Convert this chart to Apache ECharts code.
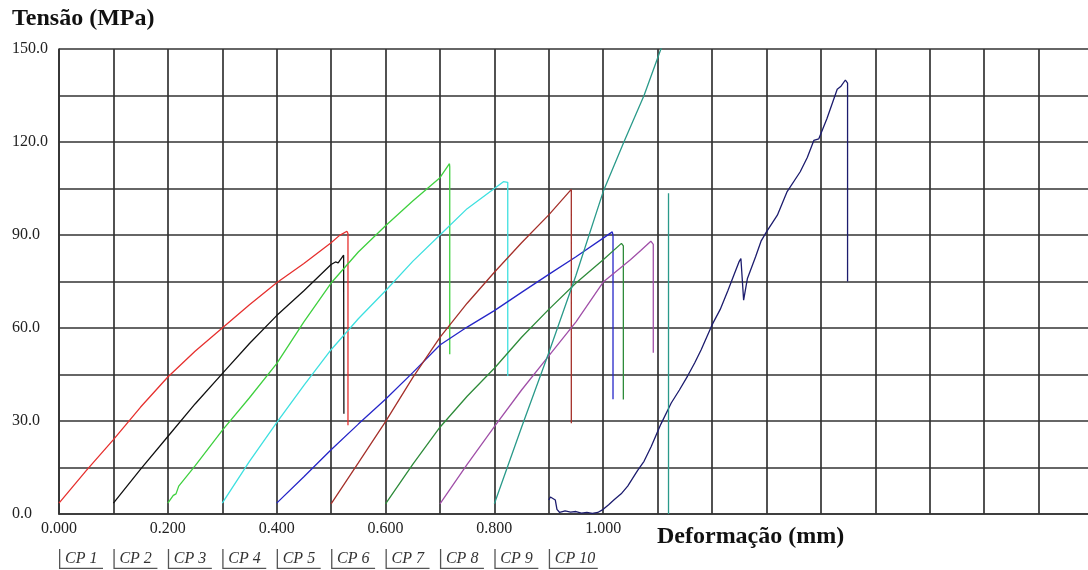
<!DOCTYPE html>
<html><head><meta charset="utf-8">
<script src="https://cdn.jsdelivr.net/npm/echarts@6/dist/echarts.min.js"></script>
<style>html,body{margin:0;padding:0;background:#fff}#c{width:1088px;height:570px}</style>
</head><body><div id="c"></div>
<script>
const seriesNames = ['CP 1','CP 2','CP 3','CP 4','CP 5','CP 6','CP 7','CP 8','CP 9','CP 10'];
const seriesColors = ['#e6302e','#111111','#3fd03f','#3ee0e0','#2626c8','#a5302a','#2e8b3a','#a04fa8','#2a9a8a','#1c1c6e'];
const yLabelValues = [0, 30, 60, 90, 120, 150];
const xLabelValues = [0, 0.2, 0.4, 0.6, 0.8, 1.0];

const cp1 = [[0,3.5],[0.05,14],[0.1,24],[0.15,34.5],[0.2,44.2],[0.25,52.5],[0.3,60],[0.35,67.5],[0.4,74.6],[0.45,80.8],[0.5,87.5],[0.515,89.8],[0.529,91.2],[0.531,90.5],[0.531,28.6]];
const cp2 = [[0.1,3.5],[0.15,14.5],[0.2,25],[0.25,35.5],[0.3,45.3],[0.35,55],[0.4,64],[0.45,72],[0.5,80.5],[0.508,81.3],[0.513,81],[0.523,83.5],[0.5235,32.3]];
const cp3 = [[0.2,3.5],[0.21,6],[0.215,6.5],[0.22,9],[0.25,15.5],[0.3,27],[0.35,37.5],[0.4,48.5],[0.45,62],[0.5,74.5],[0.55,84.5],[0.6,93],[0.65,101],[0.7,108.5],[0.7175,113],[0.718,112],[0.718,51.5]];
const cp4 = [[0.3,3.5],[0.35,17],[0.4,29.5],[0.45,41.5],[0.5,53],[0.55,63],[0.6,72],[0.65,81.5],[0.7,90],[0.75,98.5],[0.8,105],[0.8166,107.2],[0.8246,107],[0.8246,44.5]];
const cp5 = [[0.4,3.5],[0.45,12],[0.5,20.7],[0.55,29],[0.6,37],[0.65,45.6],[0.7,54.5],[0.75,60.3],[0.8,65.6],[0.85,71.5],[0.9,77.3],[0.95,83],[1.0,89],[1.0166,91],[1.018,90],[1.018,37]];
const cp6 = [[0.5,3.3],[0.55,16.5],[0.6,29.8],[0.65,44],[0.7,57],[0.75,68],[0.8,78],[0.85,87.5],[0.9,96.5],[0.9414,104.7],[0.9414,29.3]];
const cp7 = [[0.6,3.3],[0.65,16],[0.7,28],[0.75,38],[0.8,47],[0.85,57],[0.9,66],[0.95,74.5],[1.0,82],[1.0335,87.3],[1.037,86.5],[1.037,36.9]];
const cp8 = [[0.7,3.3],[0.75,16],[0.8,28.2],[0.85,40],[0.9,51],[0.95,62],[1.0,74.8],[1.05,82],[1.069,85],[1.0875,88],[1.092,87],[1.092,52]];
const cp9 = [[0.8,3.3],[0.85,28],[0.9,52],[0.95,77],[1.0,104],[1.038,120],[1.075,135],[1.106,150],[1.115,155]];
const cp9Drop = [[1.12,103.5],[1.12,0]];
const cp10 = [[0.9,4.5],[0.903,5.5],[0.906,5],[0.912,4.5],[0.915,1.5],[0.92,0.5],[0.93,1],[0.94,0.6],[0.95,0.8],[0.96,0.3],[0.97,0.5],[0.98,0.2],[0.99,0.5],[1.0,1.5],[1.01,3],[1.02,4.6],[1.033,6.5],[1.045,9],[1.063,14],[1.075,17],[1.088,21.7],[1.106,29],[1.125,35.8],[1.14,40],[1.155,44.5],[1.168,48.7],[1.18,53],[1.2,61],[1.215,66],[1.229,72],[1.24,77],[1.25,81.5],[1.253,82.4],[1.258,69],[1.265,76],[1.28,83],[1.29,88],[1.3,91],[1.32,96.4],[1.338,104],[1.362,110.4],[1.375,115],[1.387,120.5],[1.396,121],[1.411,127.5],[1.43,137],[1.437,138],[1.445,140],[1.449,139],[1.449,75]];

const seriesData = [cp1, cp2, cp3, cp4, cp5, cp6, cp7, cp8, cp9, cp10];

const serif = "'Liberation Serif', 'Times New Roman', serif";
const gridColor = '#333';

const series = seriesData.map((d, i) => ({
  name: seriesNames[i], type: 'line', data: d, showSymbol: false, symbol: 'none',
  lineStyle: { color: seriesColors[i], width: 1.3 }, itemStyle: { color: seriesColors[i] },
  animation: false, z: 3
}));
series.push({
  name: 'CP 9', type: 'line', data: cp9Drop, showSymbol: false, symbol: 'none',
  lineStyle: { color: seriesColors[8], width: 1.3 }, itemStyle: { color: seriesColors[8] },
  animation: false, z: 3
});

const legends = seriesNames.map((n, i) => {
  const w = i === 9 ? 49 : 44, h = 20;
  return {
    data: [n], left: 59 + i * 54.42, top: 549, orient: 'horizontal', padding: 0,
    icon: 'path://M0,0H1.3V' + (h - 1.3) + 'H' + w + 'V' + h + 'H0Z',
    itemWidth: w, itemHeight: h, symbolKeepAspect: false, selectedMode: false,
    itemStyle: { color: '#555', borderWidth: 0 },
    textStyle: { color: '#333', fontFamily: serif, fontStyle: 'italic', fontSize: 16, padding: [0, 0, 0, -(w - 1)] }
  };
});

const chart = echarts.init(document.getElementById('c'), null, { renderer: 'canvas' });
chart.setOption({
  animation: false,
  backgroundColor: '#fff',
  title: [
    { text: 'Tensão (MPa)', left: 12, top: 7, padding: 0,
      textStyle: { fontFamily: serif, fontWeight: 'bold', fontSize: 24, color: '#111' } },
    { text: 'Deformação (mm)', left: 657, top: 525, padding: 0,
      textStyle: { fontFamily: serif, fontWeight: 'bold', fontSize: 24, color: '#111' } }
  ],
  legend: legends,
  grid: { left: 59, top: 49, width: 1034, height: 465, containLabel: false, outerBoundsMode: 'none' },
  xAxis: {
    type: 'value', min: 0, max: 1.9, interval: 0.1,
    axisLine: { show: true, lineStyle: { color: gridColor, width: 1.7 } },
    axisTick: { show: false },
    splitLine: { show: true, lineStyle: { color: gridColor, width: 1.7 } },
    axisLabel: {
      margin: 7, color: '#222', fontFamily: serif, fontSize: 16,
      formatter: v => xLabelValues.some(t => Math.abs(t - v) < 1e-6) ? v.toFixed(3) : ''
    }
  },
  yAxis: {
    type: 'value', min: 0, max: 150, interval: 15,
    axisLine: { show: true, lineStyle: { color: gridColor, width: 1.7 } },
    axisTick: { show: false },
    splitLine: { show: true, lineStyle: { color: gridColor, width: 1.7 } },
    axisLabel: {
      margin: 47, align: 'left', color: '#222', fontFamily: serif, fontSize: 16,
      formatter: v => yLabelValues.some(t => Math.abs(t - v) < 1e-6) ? v.toFixed(1) : ''
    }
  },
  series: series
});
</script></body></html>
